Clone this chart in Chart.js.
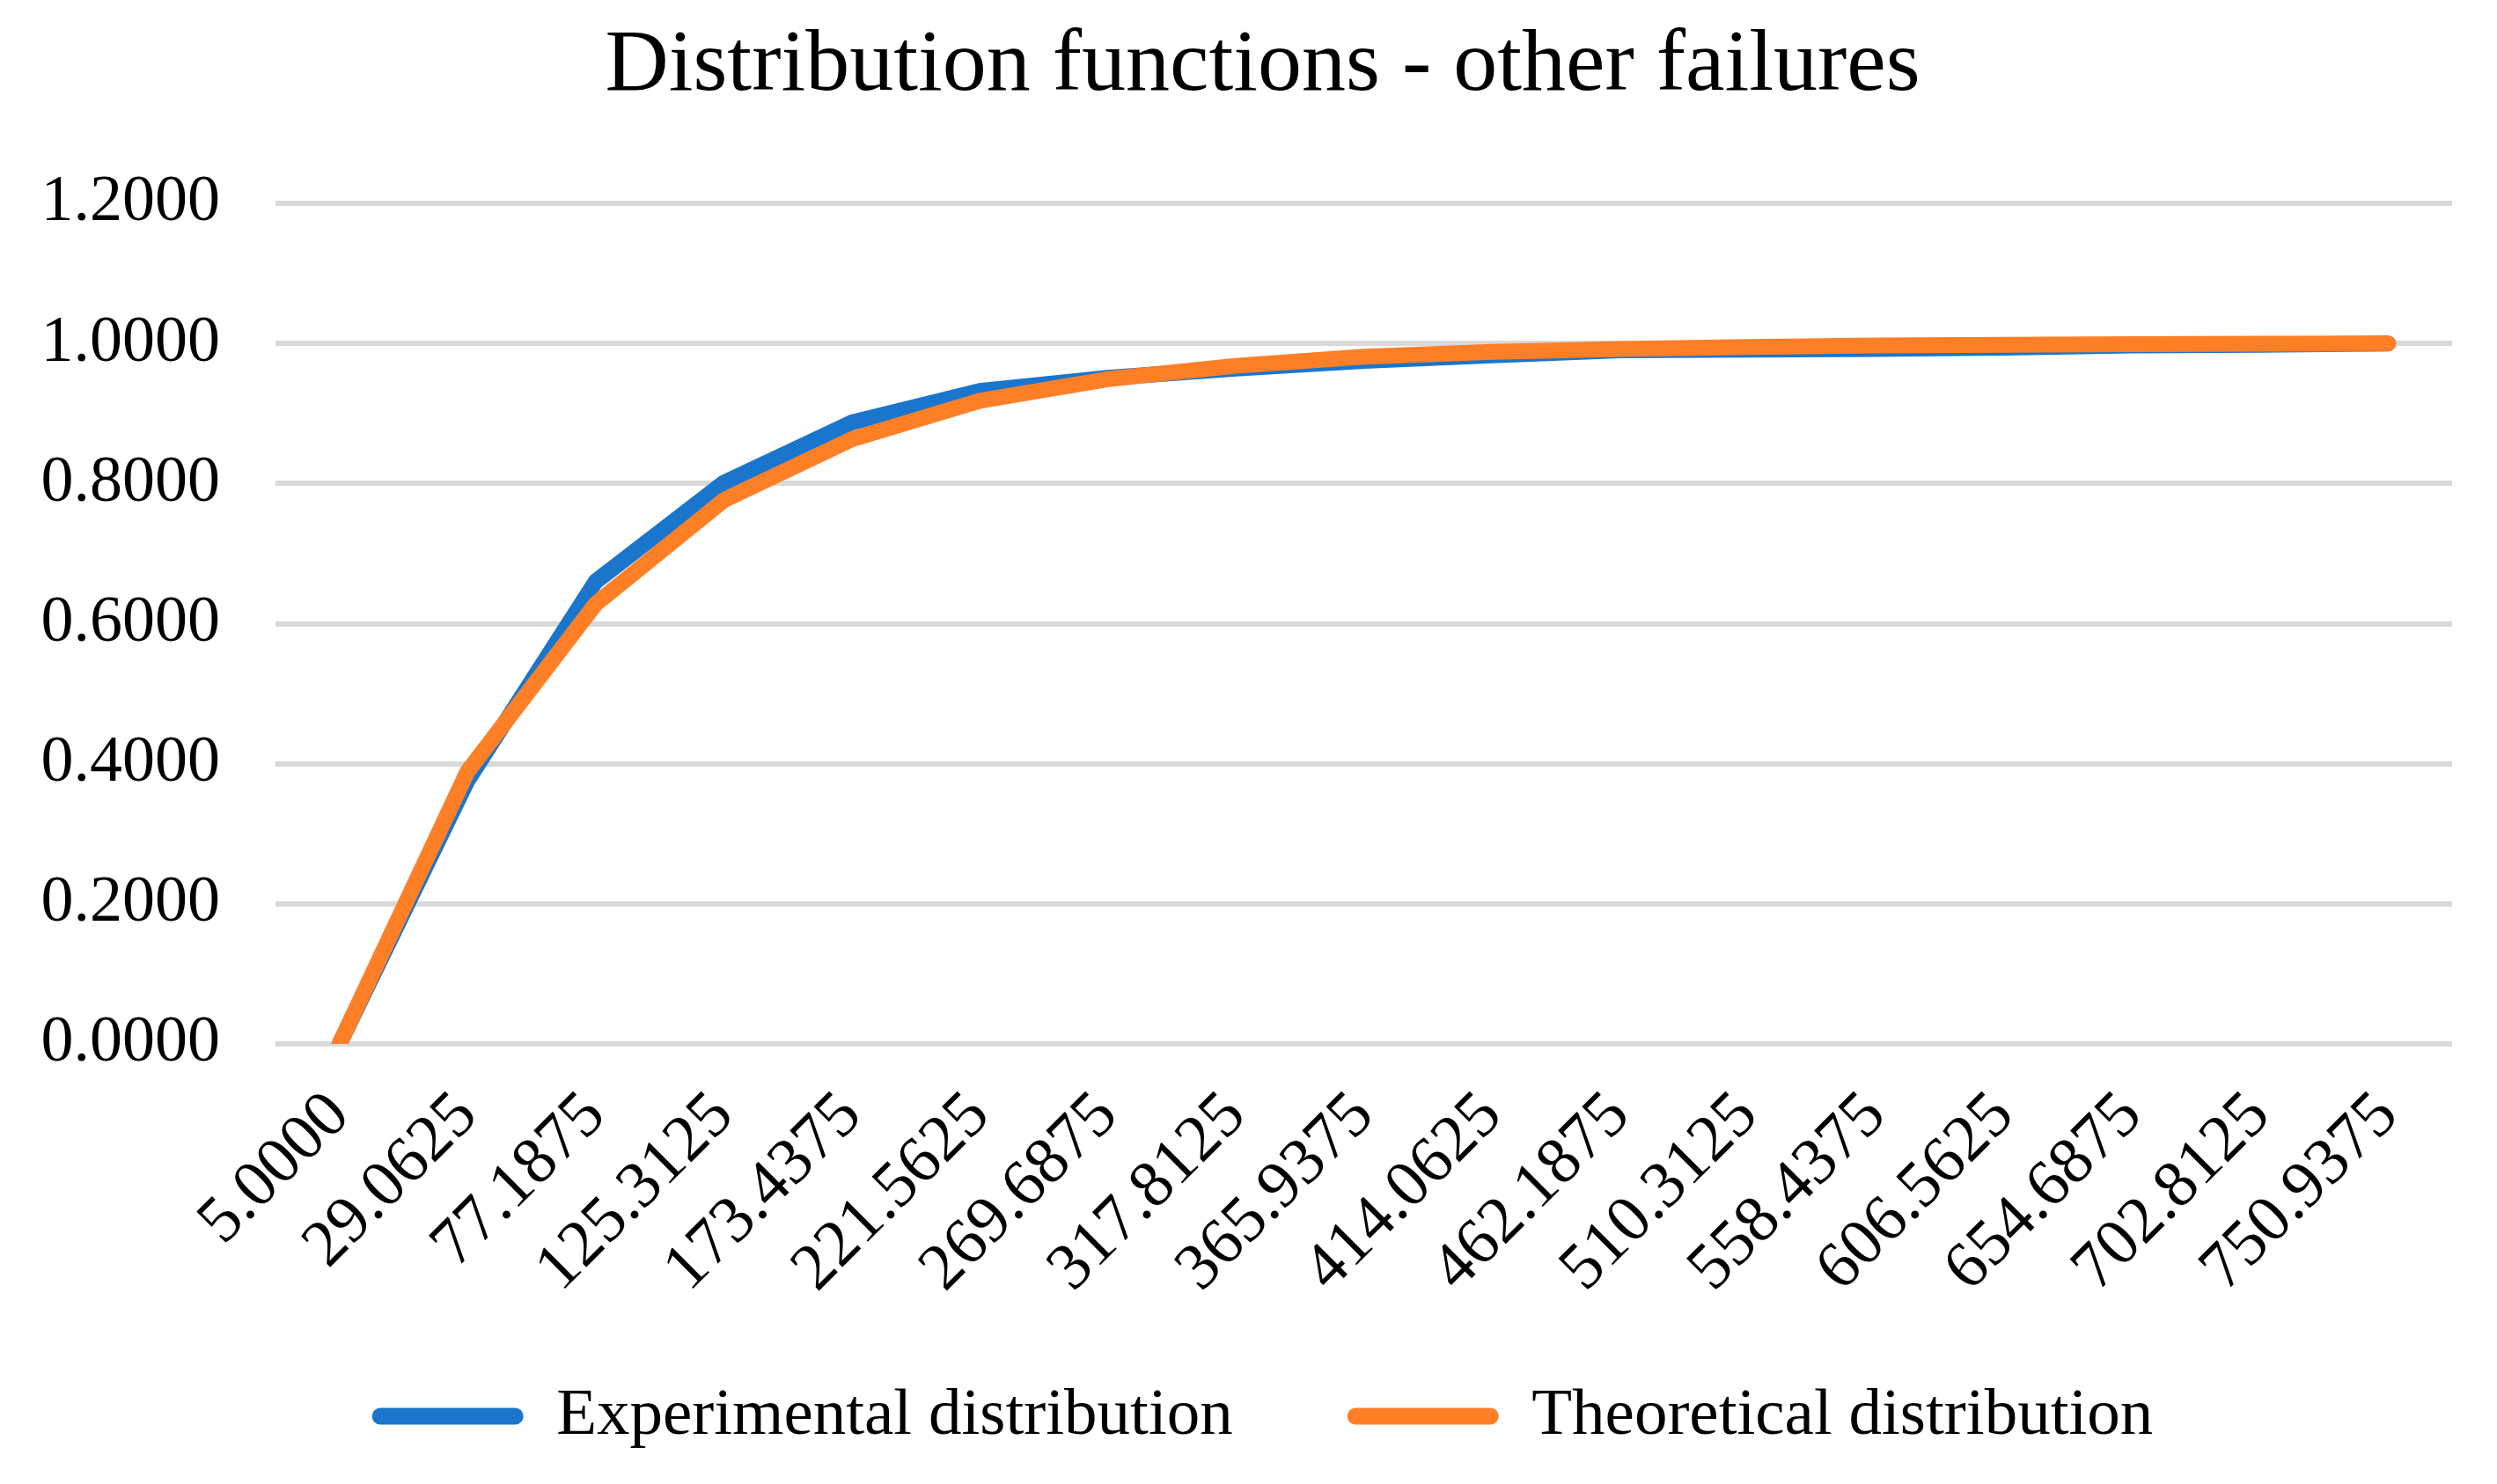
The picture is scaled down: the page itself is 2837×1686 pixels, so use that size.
<!DOCTYPE html>
<html>
<head>
<meta charset="utf-8">
<script src="https://cdn.jsdelivr.net/npm/chart.js@4"></script>
<style>
html,body{margin:0;padding:0;background:#fff;}
#wrap{width:2837px;height:1686px;}
</style>
</head>
<body>
<div id="wrap"><canvas id="c" width="2837" height="1686"></canvas></div>
<script>
const categories = ["5.0000","29.0625","77.1875","125.3125","173.4375","221.5625","269.6875","317.8125","365.9375","414.0625","462.1875","510.3125","558.4375","606.5625","654.6875","702.8125","750.9375"];
const experimental = [0, 0.376, 0.660, 0.801, 0.887, 0.932, 0.951, 0.964, 0.975, 0.983, 0.990, 0.991, 0.992, 0.994, 0.997, 0.998, 1.0];
const theoretical = [0, 0.389, 0.628, 0.776, 0.863, 0.918, 0.949, 0.968, 0.981, 0.988, 0.992, 0.995, 0.997, 0.998, 0.999, 0.9995, 1.0];
const yTicks = [0, 0.2, 0.4, 0.6, 0.8, 1.0, 1.2];

const FONT = "'Liberation Serif', 'Times New Roman', serif";
const BLUE = '#1A75CD';
const ORANGE = '#FF7F27';

// let the axis labels extend beyond their layout boxes (no clipping)
const unclipLabels = {
  id: 'unclipLabels',
  afterLayout(chart) {
    chart.scales.x.bottom = chart.height;
    chart.scales.y.left = 0;
  }
};

new Chart(document.getElementById('c'), {
  type: 'line',
  data: {
    labels: categories,
    datasets: [
      {label: 'Experimental distribution', data: experimental, borderColor: BLUE, backgroundColor: BLUE,
       borderWidth: 18, pointRadius: 0, tension: 0, borderJoinStyle: 'round', borderCapStyle: 'round', order: 1},
      {label: 'Theoretical distribution', data: theoretical, borderColor: ORANGE, backgroundColor: ORANGE,
       borderWidth: 18, pointRadius: 0, tension: 0, borderJoinStyle: 'round', borderCapStyle: 'round', order: 0}
    ]
  },
  plugins: [unclipLabels],
  options: {
    responsive: false,
    devicePixelRatio: 1,
    animation: false,
    layout: {padding: {left: 83, right: 51, top: 0, bottom: 29.5}},
    plugins: {
      title: {
        display: true,
        text: 'Distribution functions - other failures',
        color: '#000',
        font: {family: FONT, size: 100, weight: 'normal', lineHeight: 1.2},
        padding: {top: 16, bottom: 95}
      },
      legend: {
        position: 'bottom',
        labels: {
          color: '#000',
          font: {family: FONT, size: 75},
          boxWidth: 172,
          boxHeight: 19,
          padding: 130,
          generateLabels: (chart) => chart.data.datasets.map((ds, i) => ({
            text: ds.label, fillStyle: ds.borderColor, strokeStyle: ds.borderColor,
            lineWidth: 0, borderRadius: 9.5, datasetIndex: i, hidden: false, fontColor: '#000'
          }))
        }
      },
      tooltip: {enabled: false}
    },
    scales: {
      x: {
        offset: true,
        grid: {display: false},
        border: {display: false},
        ticks: {
          color: '#000',
          font: {family: FONT, size: 75},
          minRotation: 45, maxRotation: 45,
          autoSkip: false,
          padding: 30
        },
        afterFit: (s) => { s.height = 244.5 + 11; }
      },
      y: {
        min: 0, max: 1.2,
        afterBuildTicks: (s) => { s.ticks = yTicks.map(v => ({value: v})); },
        grid: {color: '#D9D9D9', lineWidth: 6, drawTicks: false},
        border: {display: false},
        ticks: {
          color: '#000',
          font: {family: FONT, size: 74},
          padding: 63,
          callback: (v) => Number(v).toFixed(4)
        },
        afterFit: (s) => { s.width = 230; }
      }
    }
  }
});
</script>
</body>
</html>
